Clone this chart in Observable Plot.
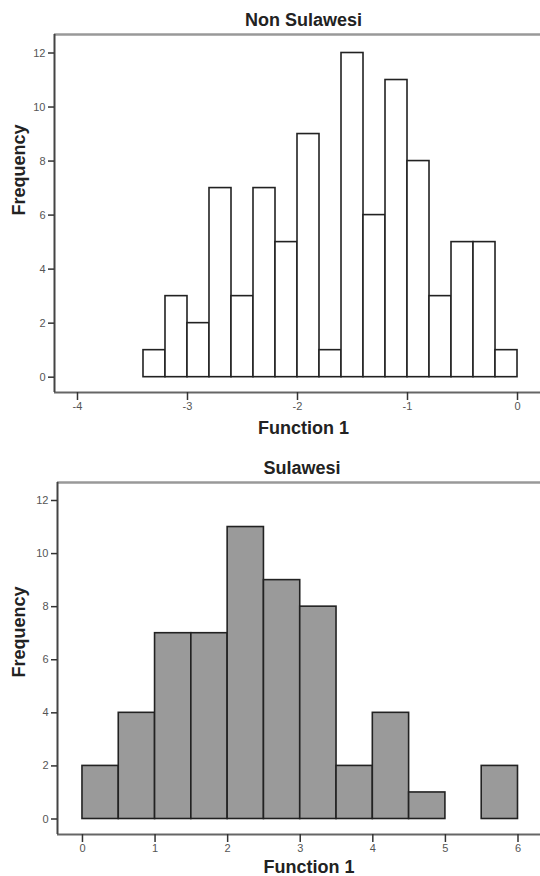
<!DOCTYPE html>
<html>
<head>
<meta charset="utf-8">
<script src="https://cdn.jsdelivr.net/npm/d3@7"></script>
<script src="https://cdn.jsdelivr.net/npm/@observablehq/plot@0.6"></script>
<style>
  body { margin: 0; background: #fff; }
  svg { display: block; }
</style>
</head>
<body>
<div id="chart"></div>
<script>
// ---- data ----
const nonTitle = "Non Sulawesi";
const nonBinStart = [-3.4, -3.2, -3.0, -2.8, -2.6, -2.4, -2.2, -2.0, -1.8, -1.6, -1.4, -1.2, -1.0, -0.8, -0.6, -0.4, -0.2];
const nonCounts   = [1, 3, 2, 7, 3, 7, 5, 9, 1, 12, 6, 11, 8, 3, 5, 5, 1];
const nonBinWidth = 0.2;
const nonXTicks = [-4, -3, -2, -1, 0];

const sulTitle = "Sulawesi";
const sulBinStart = [0, 0.5, 1, 1.5, 2, 2.5, 3, 3.5, 4, 4.5, 5, 5.5];
const sulCounts   = [2, 4, 7, 7, 11, 9, 8, 2, 4, 1, 0, 2];
const sulBinWidth = 0.5;
const sulXTicks = [0, 1, 2, 3, 4, 5, 6];

const yTicks = [0, 2, 4, 6, 8, 10, 12];
const xLabel = "Function 1";
const yLabel = "Frequency";

const FONT = "'Liberation Sans', Arial, Helvetica, sans-serif";

function hist({title, starts, counts, binWidth, xTicks, xDomain, yDomain, fill,
               height, mTop, mBottom, mLeft, titleDy, xLabelDy, xLabelDx, yLabelDx, yLabelDy, titleDx}) {
  const bins = starts.map((s, i) => ({x1: s, x2: s + binWidth, count: counts[i]}))
    .filter(d => d.count > 0);
  const label = {fontSize: 18, fontWeight: "bold", fill: "#222", lineAnchor: "middle"};
  return Plot.plot({
    width: 540,
    height,
    marginTop: mTop,
    marginBottom: mBottom,
    marginLeft: mLeft,
    marginRight: 0,
    style: {fontFamily: FONT, fontSize: "11px", color: "#333", background: "#fff"},
    x: {domain: xDomain},
    y: {domain: yDomain},
    marks: [
      Plot.rectY(bins, {x1: "x1", x2: "x2", y: "count", fill, stroke: "#222", strokeWidth: 1.6}),
      Plot.ruleY([yDomain[1]], {stroke: "#999", strokeWidth: 2.5}),
      Plot.ruleY([yDomain[0]], {stroke: "#666", strokeWidth: 2}),
      Plot.ruleX([xDomain[0]], {stroke: "#444", strokeWidth: 2}),
      Plot.axisX({ticks: xTicks, tickSize: 8, tickPadding: 2, tickFormat: d => String(d),
                  label: null, stroke: "#333", strokeWidth: 1.5, fill: "#555", fontSize: 11}),
      Plot.axisY({ticks: yTicks, tickSize: 6, tickPadding: 3, tickFormat: d => String(d),
                  label: null, stroke: "#333", strokeWidth: 1.5, fill: "#555", fontSize: 11}),
      Plot.text([title], {frameAnchor: "top", dy: titleDy, dx: titleDx, ...label}),
      Plot.text([xLabel], {frameAnchor: "bottom", dy: xLabelDy, dx: xLabelDx, ...label}),
      Plot.text([yLabel], {frameAnchor: "left", rotate: -90, dx: yLabelDx, dy: yLabelDy, ...label})
    ]
  });
}

const topChart = hist({
  title: nonTitle, starts: nonBinStart, counts: nonCounts, binWidth: nonBinWidth,
  xTicks: nonXTicks, xDomain: [-4.209, 0.209], yDomain: [-0.567, 12.685], fill: "#fff",
  height: 440, mTop: 34, mBottom: 48, mLeft: 54,
  titleDy: -14, titleDx: 6, xLabelDy: 36, xLabelDx: 6, yLabelDx: -35, yLabelDy: 2
});
const bottomChart = hist({
  title: sulTitle, starts: sulBinStart, counts: sulCounts, binWidth: sulBinWidth,
  xTicks: sulXTicks, xDomain: [-0.344, 6.31], yDomain: [-0.584, 12.678], fill: "#9a9a9a",
  height: 436, mTop: 42, mBottom: 42, mLeft: 57,
  titleDy: -14, titleDx: 3, xLabelDy: 33, xLabelDx: 10, yLabelDx: -38, yLabelDy: 19
});
const root = document.getElementById("chart");
root.appendChild(topChart);
root.appendChild(bottomChart);
</script>
</body>
</html>
